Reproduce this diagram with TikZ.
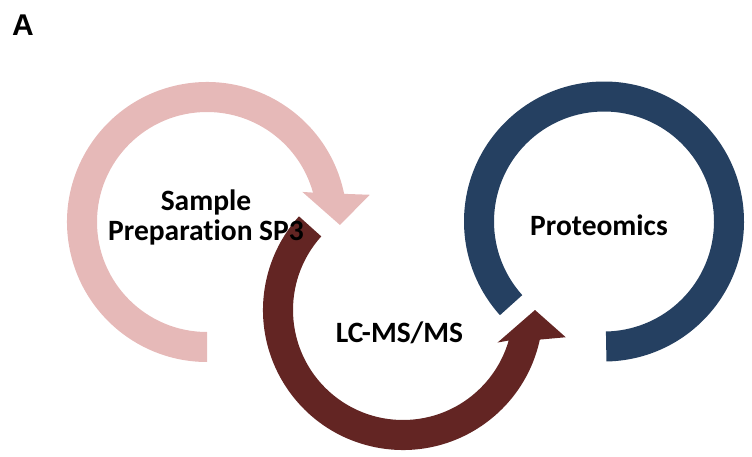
\documentclass[tikz,border=0pt]{standalone}
\usepackage{fontspec}
\setmainfont{Carlito}[Ligatures={NoCommon}]
\newfontfamily\labelfont{Liberation Sans}

\definecolor{prepPink}{HTML}{E6B9B8}
\definecolor{msRed}{HTML}{632523}
\definecolor{protBlue}{HTML}{254061}

\tikzset{
  steplabel/.style={font=\fontsize{29.5}{30}\selectfont\bfseries, text=black, inner sep=0pt, align=center},
  panellabel/.style={font=\labelfont\fontsize{30}{32}\selectfont\bfseries, text=black, inner sep=0pt}
}

\begin{document}
\begin{tikzpicture}[x=1pt, y=1pt]
  \useasboundingbox (0,0) rectangle (752,456);

  % sample preparation: clockwise arrow ending in a head on the right
  \begin{scope}[shift={(207,234)}]
    \fill[prepPink] (270:110) arc[start angle=270, end angle=15.5, radius=110]
      -- (17.5:100) -- (-1.3:133) -- (9.5:165) -- (11.6:140)
      arc[start angle=11.6, end angle=270, radius=140] -- cycle;
  \end{scope}

  % LC-MS/MS: counter-clockwise arrow ending in a head on the right
  \begin{scope}[shift={(403,146)}]
    \fill[msRed] (138:110) arc[start angle=138, end angle=343.9, radius=110]
      -- (341:100) -- (0:132) -- (350.5:165) -- (347.8:140)
      arc[start angle=347.8, end angle=138, radius=140] -- cycle;
  \end{scope}

  % proteomics: open ring without a head
  \begin{scope}[shift={(604,234.5)}]
    \fill[protBlue] (222:110) arc[start angle=222, end angle=-89, radius=110]
      -- (-89:140) arc[start angle=-89, end angle=222, radius=140] -- cycle;
  \end{scope}

  % labels
  \node[steplabel] (prep) at (206,239) {Sample\\Preparation SP3};
  \node[steplabel, anchor=base] (lcms) at (399.5,114) {LC-MS/MS};
  \node[steplabel, anchor=base] (prot) at (599,221) {Proteomics};
  \node[panellabel, anchor=base] (panel) at (23,420) {A};
\end{tikzpicture}
\end{document}
